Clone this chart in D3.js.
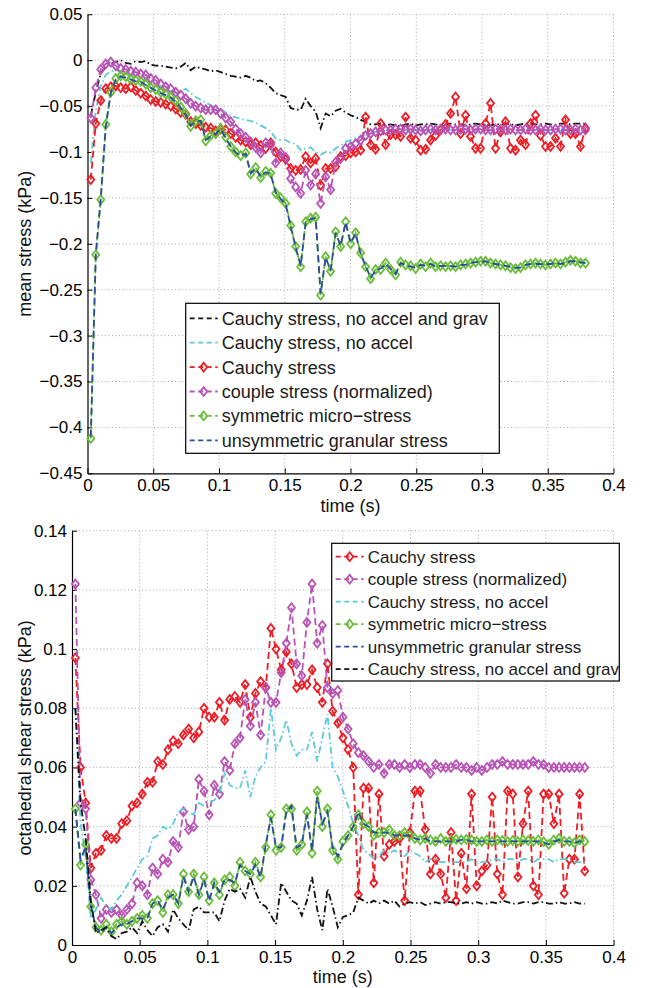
<!DOCTYPE html>
<html>
<head>
<meta charset="utf-8">
<script src="https://cdn.jsdelivr.net/npm/d3@7"></script>
<style>
body{margin:0;background:#fff;}
svg text{font-family:"Liberation Sans",Arial,Helvetica,sans-serif;}
</style>
</head>
<body>
<div id="chart"></div>
<script>
//sample times (s), shared by every series
const time=[0.0025,0.0063,0.0101,0.0139,0.0177,0.0215,0.0253,0.0291,0.0329,0.0367,
0.0405,0.0443,0.0481,0.0519,0.0557,0.0595,0.0633,0.0671,0.0709,0.0747,
0.0785,0.0823,0.0861,0.0899,0.0937,0.0975,0.1013,0.1051,0.1089,0.1127,
0.1165,0.1203,0.1241,0.1279,0.1317,0.1355,0.1393,0.1431,0.1469,0.1507,
0.1545,0.1583,0.1621,0.1659,0.1697,0.1735,0.1773,0.1811,0.1849,0.1887,
0.1925,0.1963,0.2001,0.2039,0.2077,0.2115,0.2153,0.2191,0.2229,0.2267,
0.2305,0.2343,0.2381,0.2419,0.2457,0.2495,0.2533,0.2571,0.2609,0.2647,
0.2685,0.2723,0.2761,0.2799,0.2837,0.2875,0.2913,0.2951,0.2989,0.3027,
0.3065,0.3103,0.3141,0.3179,0.3217,0.3255,0.3293,0.3331,0.3369,0.3407,
0.3445,0.3483,0.3521,0.3559,0.3597,0.3635,0.3673,0.3711,0.3749,0.3787];

//----- mean stress (kPa) -----
const meanNoAccelGrav=[-0.060,-0.035,-0.014,-0.007,-0.004,-0.002,0.000,-0.003,-0.004,-0.001,
-0.002,-0.001,-0.005,-0.006,-0.006,-0.007,-0.008,-0.009,-0.007,-0.003,
-0.011,-0.007,-0.009,-0.010,-0.012,-0.011,-0.013,-0.015,-0.017,-0.018,
-0.019,-0.017,-0.019,-0.023,-0.022,-0.025,-0.030,-0.036,-0.038,-0.040,
-0.052,-0.054,-0.054,-0.042,-0.050,-0.056,-0.074,-0.058,-0.061,-0.055,
-0.053,-0.057,-0.060,-0.062,-0.065,-0.067,-0.070,-0.070,-0.069,-0.071,
-0.070,-0.071,-0.072,-0.070,-0.069,-0.071,-0.070,-0.070,-0.069,-0.070,
-0.071,-0.070,-0.069,-0.070,-0.070,-0.071,-0.070,-0.069,-0.070,-0.070,
-0.071,-0.070,-0.070,-0.069,-0.070,-0.071,-0.070,-0.069,-0.069,-0.070,
-0.070,-0.069,-0.070,-0.071,-0.069,-0.069,-0.070,-0.069,-0.069,-0.069];
const meanNoAccel=[-0.112,-0.055,-0.028,-0.016,-0.012,-0.011,-0.012,-0.014,-0.016,-0.018,
-0.020,-0.022,-0.024,-0.026,-0.028,-0.031,-0.033,-0.036,-0.034,-0.031,
-0.036,-0.040,-0.043,-0.046,-0.049,-0.052,-0.053,-0.057,-0.061,-0.062,
-0.064,-0.065,-0.066,-0.068,-0.071,-0.074,-0.078,-0.085,-0.087,-0.087,
-0.090,-0.091,-0.098,-0.096,-0.095,-0.100,-0.103,-0.100,-0.101,-0.096,
-0.093,-0.089,-0.087,-0.085,-0.083,-0.081,-0.079,-0.078,-0.077,-0.076,
-0.076,-0.077,-0.076,-0.076,-0.077,-0.076,-0.076,-0.077,-0.076,-0.076,
-0.077,-0.076,-0.076,-0.077,-0.076,-0.076,-0.076,-0.077,-0.076,-0.076,
-0.077,-0.076,-0.076,-0.076,-0.077,-0.076,-0.076,-0.077,-0.076,-0.076,
-0.076,-0.077,-0.076,-0.076,-0.077,-0.076,-0.076,-0.076,-0.077,-0.076];
const meanCauchy=[-0.130,-0.069,-0.044,-0.031,-0.029,-0.028,-0.030,-0.031,-0.029,-0.033,
-0.036,-0.039,-0.043,-0.045,-0.046,-0.048,-0.050,-0.053,-0.057,-0.059,
-0.067,-0.069,-0.071,-0.073,-0.074,-0.077,-0.075,-0.076,-0.080,-0.084,
-0.087,-0.089,-0.092,-0.090,-0.093,-0.096,-0.090,-0.100,-0.105,-0.108,
-0.118,-0.120,-0.119,-0.105,-0.112,-0.107,-0.136,-0.118,-0.118,-0.116,
-0.105,-0.104,-0.101,-0.100,-0.098,-0.062,-0.092,-0.097,-0.069,-0.092,
-0.081,-0.081,-0.083,-0.062,-0.085,-0.087,-0.098,-0.097,-0.087,-0.082,
-0.076,-0.070,-0.058,-0.040,-0.080,-0.060,-0.083,-0.096,-0.096,-0.069,
-0.047,-0.096,-0.078,-0.067,-0.096,-0.098,-0.087,-0.092,-0.069,-0.060,
-0.082,-0.094,-0.094,-0.085,-0.094,-0.065,-0.080,-0.080,-0.094,-0.074];
const meanCouple=[-0.063,-0.030,-0.010,-0.004,-0.002,-0.006,-0.009,-0.010,-0.012,-0.013,
-0.015,-0.016,-0.020,-0.022,-0.026,-0.029,-0.031,-0.035,-0.038,-0.042,
-0.047,-0.050,-0.052,-0.054,-0.054,-0.054,-0.058,-0.063,-0.067,-0.075,
-0.080,-0.084,-0.089,-0.095,-0.101,-0.090,-0.092,-0.112,-0.101,-0.106,
-0.129,-0.138,-0.145,-0.120,-0.136,-0.124,-0.156,-0.127,-0.141,-0.111,
-0.107,-0.096,-0.094,-0.091,-0.087,-0.082,-0.080,-0.078,-0.077,-0.076,
-0.076,-0.075,-0.075,-0.076,-0.075,-0.076,-0.077,-0.076,-0.075,-0.076,
-0.075,-0.075,-0.076,-0.076,-0.075,-0.075,-0.076,-0.075,-0.075,-0.076,
-0.076,-0.075,-0.075,-0.076,-0.075,-0.076,-0.076,-0.075,-0.076,-0.076,
-0.075,-0.076,-0.076,-0.075,-0.075,-0.076,-0.076,-0.075,-0.076,-0.076];
const meanSymMicro=[-0.412,-0.212,-0.152,-0.070,-0.035,-0.020,-0.017,-0.018,-0.021,-0.022,
-0.023,-0.026,-0.030,-0.032,-0.035,-0.037,-0.040,-0.044,-0.051,-0.058,
-0.072,-0.066,-0.065,-0.088,-0.082,-0.080,-0.074,-0.084,-0.094,-0.100,
-0.104,-0.101,-0.124,-0.117,-0.128,-0.121,-0.123,-0.145,-0.150,-0.156,
-0.180,-0.203,-0.225,-0.176,-0.172,-0.171,-0.256,-0.214,-0.230,-0.187,
-0.203,-0.176,-0.200,-0.188,-0.210,-0.225,-0.238,-0.228,-0.228,-0.221,
-0.228,-0.234,-0.220,-0.223,-0.224,-0.227,-0.222,-0.225,-0.221,-0.225,
-0.224,-0.225,-0.224,-0.225,-0.223,-0.222,-0.221,-0.220,-0.219,-0.219,
-0.221,-0.222,-0.223,-0.224,-0.226,-0.227,-0.226,-0.223,-0.222,-0.221,
-0.222,-0.223,-0.222,-0.221,-0.222,-0.220,-0.218,-0.219,-0.221,-0.221];
const meanUnsymGran=[-0.410,-0.212,-0.150,-0.072,-0.036,-0.021,-0.018,-0.019,-0.021,-0.023,
-0.024,-0.027,-0.030,-0.033,-0.036,-0.038,-0.041,-0.045,-0.052,-0.059,
-0.071,-0.067,-0.066,-0.087,-0.083,-0.080,-0.075,-0.085,-0.094,-0.101,
-0.104,-0.102,-0.123,-0.118,-0.127,-0.122,-0.124,-0.144,-0.151,-0.157,
-0.181,-0.204,-0.224,-0.177,-0.173,-0.172,-0.254,-0.215,-0.229,-0.188,
-0.202,-0.177,-0.199,-0.189,-0.211,-0.224,-0.237,-0.229,-0.227,-0.222,
-0.227,-0.233,-0.221,-0.223,-0.225,-0.226,-0.223,-0.224,-0.222,-0.225,
-0.224,-0.224,-0.224,-0.225,-0.223,-0.223,-0.221,-0.220,-0.220,-0.219,
-0.221,-0.222,-0.223,-0.224,-0.225,-0.226,-0.226,-0.223,-0.222,-0.222,
-0.222,-0.222,-0.222,-0.221,-0.222,-0.221,-0.219,-0.219,-0.220,-0.221];

//----- octahedral shear stress (kPa) -----
const octCauchy=[0.097,0.060,0.048,0.026,0.031,0.032,0.037,0.036,0.036,0.041,
0.042,0.047,0.048,0.051,0.055,0.055,0.062,0.061,0.066,0.069,
0.068,0.071,0.073,0.070,0.072,0.080,0.077,0.077,0.082,0.076,
0.083,0.084,0.082,0.088,0.077,0.085,0.089,0.087,0.107,0.100,
0.093,0.099,0.095,0.087,0.088,0.088,0.093,0.087,0.082,0.095,
0.079,0.075,0.070,0.066,0.060,0.017,0.053,0.053,0.021,0.051,
0.030,0.034,0.035,0.036,0.015,0.038,0.052,0.052,0.039,0.024,
0.029,0.024,0.016,0.038,0.015,0.031,0.019,0.051,0.020,0.025,
0.027,0.050,0.024,0.017,0.052,0.051,0.023,0.041,0.052,0.020,
0.017,0.051,0.051,0.041,0.051,0.0175,0.029,0.029,0.051,0.025];
const octCouple=[0.122,0.048,0.046,0.022,0.017,0.009,0.012,0.011,0.012,0.010,
0.012,0.014,0.021,0.020,0.017,0.026,0.024,0.029,0.028,0.035,
0.033,0.045,0.039,0.040,0.056,0.052,0.044,0.054,0.051,0.062,
0.059,0.068,0.070,0.083,0.074,0.082,0.071,0.087,0.082,0.082,
0.092,0.102,0.114,0.095,0.091,0.109,0.122,0.102,0.108,0.087,
0.085,0.086,0.077,0.073,0.068,0.065,0.064,0.062,0.060,0.061,
0.058,0.061,0.061,0.060,0.061,0.060,0.061,0.061,0.060,0.058,
0.061,0.060,0.060,0.060,0.061,0.060,0.060,0.059,0.060,0.059,
0.060,0.061,0.061,0.062,0.061,0.061,0.061,0.061,0.061,0.062,
0.061,0.061,0.060,0.060,0.060,0.060,0.060,0.060,0.060,0.060];
const octNoAccel=[0.080,0.041,0.030,0.009,0.012,0.016,0.013,0.012,0.015,0.017,
0.020,0.023,0.026,0.029,0.030,0.036,0.037,0.040,0.039,0.041,
0.045,0.046,0.045,0.044,0.048,0.047,0.048,0.049,0.051,0.058,
0.054,0.053,0.053,0.059,0.050,0.057,0.060,0.062,0.080,0.066,
0.070,0.076,0.068,0.064,0.066,0.066,0.072,0.062,0.070,0.078,
0.060,0.057,0.052,0.047,0.041,0.037,0.032,0.031,0.029,0.030,
0.032,0.031,0.032,0.031,0.030,0.032,0.031,0.030,0.028,0.029,
0.029,0.028,0.028,0.028,0.028,0.028,0.028,0.029,0.028,0.028,
0.028,0.029,0.029,0.028,0.029,0.029,0.028,0.029,0.029,0.028,
0.029,0.029,0.029,0.028,0.029,0.029,0.029,0.028,0.028,0.028];
const octSymMicro=[0.046,0.027,0.034,0.013,0.006,0.005,0.007,0.0045,0.007,0.008,
0.007,0.008,0.009,0.010,0.009,0.014,0.015,0.011,0.017,0.017,
0.014,0.024,0.018,0.024,0.017,0.023,0.015,0.021,0.017,0.022,
0.023,0.020,0.028,0.025,0.024,0.028,0.023,0.033,0.044,0.032,
0.033,0.046,0.046,0.032,0.034,0.045,0.031,0.052,0.040,0.046,
0.032,0.029,0.035,0.037,0.040,0.044,0.041,0.040,0.037,0.038,
0.038,0.039,0.037,0.037,0.038,0.037,0.036,0.0355,0.036,0.0355,
0.035,0.036,0.035,0.0355,0.0357,0.0355,0.0357,0.0355,0.035,0.035,
0.0355,0.035,0.0355,0.0353,0.035,0.0353,0.035,0.0355,0.0353,0.035,
0.0355,0.0349,0.034,0.0355,0.036,0.035,0.035,0.0345,0.0355,0.035];
const octUnsymGran=[0.046,0.029,0.033,0.013,0.006,0.004,0.006,0.004,0.006,0.007,
0.007,0.008,0.009,0.009,0.009,0.014,0.015,0.012,0.016,0.017,
0.014,0.023,0.018,0.023,0.017,0.022,0.015,0.021,0.018,0.022,
0.022,0.021,0.027,0.025,0.024,0.027,0.023,0.034,0.043,0.033,
0.033,0.045,0.047,0.033,0.034,0.044,0.032,0.050,0.041,0.045,
0.033,0.030,0.034,0.037,0.040,0.045,0.041,0.040,0.038,0.038,
0.038,0.038,0.037,0.037,0.037,0.037,0.036,0.0355,0.036,0.035,
0.035,0.035,0.035,0.035,0.035,0.0355,0.0355,0.035,0.035,0.035,
0.035,0.035,0.035,0.035,0.035,0.035,0.035,0.035,0.035,0.035,
0.035,0.0345,0.034,0.035,0.0355,0.035,0.035,0.0345,0.035,0.035];
const octNoAccelGrav=[0.080,0.048,0.036,0.015,0.004,0.005,0.006,0.003,0.002,0.004,
0.0045,0.006,0.004,0.008,0.005,0.003,0.006,0.007,0.0045,0.012,
0.009,0.007,0.005,0.012,0.013,0.011,0.011,0.011,0.008,0.015,
0.019,0.018,0.019,0.016,0.023,0.018,0.014,0.013,0.010,0.007,
0.021,0.018,0.015,0.014,0.010,0.015,0.023,0.012,0.005,0.019,
0.013,0.006,0.0095,0.010,0.011,0.016,0.015,0.014,0.015,0.014,
0.015,0.014,0.015,0.013,0.014,0.0145,0.014,0.0145,0.0135,0.014,
0.0145,0.014,0.0145,0.0145,0.014,0.014,0.0145,0.014,0.0145,0.014,
0.014,0.0145,0.014,0.015,0.0145,0.014,0.014,0.0145,0.0145,0.014,
0.0145,0.0145,0.014,0.014,0.0145,0.014,0.014,0.0145,0.014,0.014];

//ticks
const xTicks=[0,0.05,0.1,0.15,0.2,0.25,0.3,0.35,0.4];
const xTickLabels=["0","0.05","0.1","0.15","0.2","0.25","0.3","0.35","0.4"];
const meanTicks=[0.05,0,-0.05,-0.1,-0.15,-0.2,-0.25,-0.3,-0.35,-0.4,-0.45];
const meanTickLabels=["0.05","0","\u22120.05","\u22120.1","\u22120.15","\u22120.2","\u22120.25","\u22120.3","\u22120.35","\u22120.4","\u22120.45"];
const octTicks=[0,0.02,0.04,0.06,0.08,0.1,0.12,0.14];
const octTickLabels=["0","0.02","0.04","0.06","0.08","0.1","0.12","0.14"];

//line colours
const cRed="#ee1d25", cPurple="#b852b5", cCyan="#5dc9dc", cGreen="#69bd3b", cBlue="#2b4c9c", cBlack="#111";
const dash="7,4", dashDot="7,3,1.5,3";

const w=649, h=988;
const svg=d3.select("#chart").append("svg")
            .attr("width",w)
            .attr("height",h);

const diamond="M0,-4.4L3.5,0L0,4.4L-3.5,0Z";   //open diamond marker

function drawPanel(p){
    const x=d3.scaleLinear().domain([0,0.4]).range([p.left,p.right]);
    const y=d3.scaleLinear().domain(p.yDomain).range([p.bottom,p.top]);
    const g=svg.append("g");

    //dotted grid
    g.selectAll(".gx").data(xTicks.slice(1)).enter().append("line")
        .attr("x1",d=>x(d)).attr("x2",d=>x(d))
        .attr("y1",p.top).attr("y2",p.bottom)
        .attr("stroke","#a8a8a8").attr("stroke-dasharray","1,2.5");
    g.selectAll(".gy").data(p.yTicks.filter(v=>v!==p.yDomain[0])).enter().append("line")
        .attr("x1",p.left).attr("x2",p.right)
        .attr("y1",d=>y(d)).attr("y2",d=>y(d))
        .attr("stroke","#a8a8a8").attr("stroke-dasharray","1,2.5");

    //axes, ticks pointing inwards
    const xa=g.append("g").attr("transform","translate(0,"+p.bottom+")")
        .call(d3.axisBottom(x).tickValues(xTicks).tickFormat((d,i)=>xTickLabels[i])
            .tickSize(-5).tickSizeOuter(0).tickPadding(6));
    const ya=g.append("g").attr("transform","translate("+p.left+",0)")
        .call(d3.axisLeft(y).tickValues(p.yTicks).tickFormat((d,i)=>p.yLabels[i])
            .tickSize(-5).tickSizeOuter(0).tickPadding(5));
    [xa,ya].forEach(a=>{
        a.attr("font-size",17).attr("font-family","'Liberation Sans',Arial,sans-serif").attr("color","#000");
        a.select(".domain").attr("stroke-width",1.2);
    });

    //axis titles
    g.append("text").attr("x",(p.left+p.right)/2).attr("y",p.xTitleY)
        .attr("text-anchor","middle").attr("font-size",18).attr("fill","#111").text("time (s)");
    g.append("text").attr("transform","translate("+p.yTitleX+","+(p.top+p.bottom)/2+") rotate(-90)")
        .attr("text-anchor","middle").attr("font-size",18).attr("fill","#111").text(p.yTitle);

    //series
    const line=d3.line().x((d,i)=>x(time[i])).y(d=>y(d));
    p.series.forEach(s=>{
        g.append("path").datum(s.values).attr("d",line)
            .attr("fill","none").attr("stroke",s.color)
            .attr("stroke-width",1.8).attr("stroke-dasharray",s.dash);
        if(s.marker){
            g.append("g").selectAll("path").data(s.values).enter().append("path")
                .attr("d",diamond)
                .attr("transform",(d,i)=>"translate("+x(time[i])+","+y(d)+")")
                .attr("fill","none").attr("stroke",s.color).attr("stroke-width",1.8);
        }
    });

    //legend
    const L=p.legend;
    const lg=g.append("g");
    lg.append("rect").attr("x",L.x).attr("y",L.y).attr("width",L.w).attr("height",L.h)
        .attr("fill","#fff").attr("stroke","#000").attr("stroke-width",1.2);
    p.legendOrder.forEach((k,i)=>{
        const s=p.series.find(d=>d.name===k);
        const cy=L.y+L.row0+i*L.step;
        lg.append("line").attr("x1",L.x+4).attr("x2",L.x+32).attr("y1",cy).attr("y2",cy)
            .attr("stroke",s.color).attr("stroke-width",1.8).attr("stroke-dasharray","5,3.5");
        if(s.marker){
            lg.append("path").attr("d",diamond).attr("transform","translate("+(L.x+18)+","+cy+")")
                .attr("fill","none").attr("stroke",s.color).attr("stroke-width",1.8);
        }
        lg.append("text").attr("x",L.x+36).attr("y",cy).attr("dy","0.36em")
            .attr("font-size",L.font).attr("fill","#1a1a1a").text(k);
    });
}

drawPanel({
    left:87.5, right:613.5, top:14.3, bottom:473.3,
    yDomain:[-0.45,0.05], yTicks:meanTicks, yLabels:meanTickLabels,
    yTitle:"mean stress (kPa)", yTitleX:31, xTitleY:512,
    series:[
        {name:"Cauchy stress, no accel and grav",values:meanNoAccelGrav,color:cBlack,dash:dashDot,marker:false},
        {name:"Cauchy stress, no accel",values:meanNoAccel,color:cCyan,dash:dashDot,marker:false},
        {name:"Cauchy stress",values:meanCauchy,color:cRed,dash:dash,marker:true},
        {name:"couple stress (normalized)",values:meanCouple,color:cPurple,dash:dash,marker:true},
        {name:"symmetric micro\u2212stress",values:meanSymMicro,color:cGreen,dash:dash,marker:true},
        {name:"unsymmetric granular stress",values:meanUnsymGran,color:cBlue,dash:dash,marker:false}
    ],
    legendOrder:["Cauchy stress, no accel and grav","Cauchy stress, no accel","Cauchy stress",
        "couple stress (normalized)","symmetric micro\u2212stress","unsymmetric granular stress"],
    legend:{x:185.7,y:303.3,w:313.6,h:150,row0:15,step:24.4,font:18}
});

drawPanel({
    left:72, right:613.6, top:530.7, bottom:945,
    yDomain:[0,0.14], yTicks:octTicks, yLabels:octTickLabels,
    yTitle:"octahedral shear stress (kPa)", yTitleX:31, xTitleY:983,
    series:[
        {name:"Cauchy stress",values:octCauchy,color:cRed,dash:dash,marker:true},
        {name:"couple stress (normalized)",values:octCouple,color:cPurple,dash:dash,marker:true},
        {name:"Cauchy stress, no accel",values:octNoAccel,color:cCyan,dash:dashDot,marker:false},
        {name:"symmetric micro\u2212stress",values:octSymMicro,color:cGreen,dash:dash,marker:true},
        {name:"unsymmetric granular stress",values:octUnsymGran,color:cBlue,dash:dash,marker:false},
        {name:"Cauchy stress, no accel and grav",values:octNoAccelGrav,color:cBlack,dash:dashDot,marker:false}
    ],
    legendOrder:["Cauchy stress","couple stress (normalized)","Cauchy stress, no accel",
        "symmetric micro\u2212stress","unsymmetric granular stress","Cauchy stress, no accel and grav"],
    legend:{x:331.7,y:543.3,w:287.6,h:137.7,row0:13.4,step:22.5,font:17}
});
</script>
</body>
</html>
